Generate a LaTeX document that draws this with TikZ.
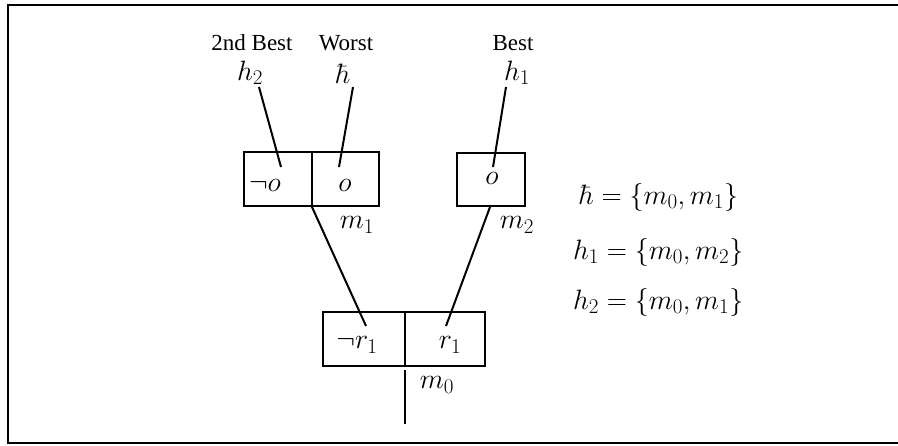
\documentclass[tikz,border=0pt]{standalone}
\usepackage{fix-cm}
\usepackage{fontspec}
\newfontfamily\timesf{Liberation Serif}
\DeclareMathSizes{28}{28}{21}{15}
\begin{document}
\begin{tikzpicture}[x=1pt,y=-1pt,
  cell/.style={draw,line width=2pt,minimum height=54pt,inner sep=0pt},
  conn/.style={line width=2pt},
  word/.style={font=\fontsize{23}{27}\timesf,inner sep=0pt},
  mth/.style={font=\fontsize{28}{32}\selectfont,inner sep=0pt}]
\useasboundingbox (0,0) rectangle (898,445);
% frame
\draw[line width=2.2pt] (898,5) -- (8,5) -- (8,443) -- (898,443);
% cells
\node[cell,minimum width=68pt] (m1a) at (278,179) {};
\node[cell,minimum width=67pt] (m1b) at (345.5,179) {};
\node[cell,minimum width=68pt,minimum height=53pt] (m2) at (491,179.5) {};
\node[cell,minimum width=82pt] (m0a) at (364,339) {};
\node[cell,minimum width=80pt] (m0b) at (445,339) {};
% cell texts
\node[mth] (tno) at (265,185) {$\neg o$};
\node[mth] (to1) at (345,185) {$o$};
\node[mth] (to2) at (492,178) {$o$};
\node[mth] (tnr) at (357,345) {$\neg r_1$};
\node[mth] (tr) at (450,345) {$r_1$};
% labels
\node[word] (l2b) at (252,43) {2nd Best};
\node[word] (lw) at (346,43) {Worst};
\node[word] (lb) at (513,43) {Best};
\node[mth] (h2) at (250,73) {$h_2$};
\node[mth] (hb) at (343,74) {$\hbar$};
\node[mth] (h1) at (517,73) {$h_1$};
\node[mth] (lm1) at (357,225) {$m_1$};
\node[mth] (lm2) at (517,225) {$m_2$};
\node[mth] (lm0) at (437,385) {$m_0$};
% equations
\node[mth,anchor=base west] (e1) at (579,204) {$\hbar=\{m_0, m_1\}$};
\node[mth,anchor=base west] (e2) at (573,259) {$h_1=\{m_0, m_2\}$};
\node[mth,anchor=base west] (e3) at (573,309) {$h_2=\{m_0, m_1\}$};
% connector endpoints
\coordinate (a2) at (259,87);
\coordinate (b2) at (281,167);
\coordinate (ab) at (353,87);
\coordinate (bb) at (339,167);
\coordinate (a1) at (506,87);
\coordinate (b1) at (493,167);
\coordinate (c1) at (312,207);
\coordinate (d1) at (366,326);
\coordinate (c2) at (490,207);
\coordinate (d2) at (446,326);
\coordinate (s0) at (405,370);
\coordinate (s1) at (405,424);
\draw[conn] (a2) -- (b2);
\draw[conn] (ab) -- (bb);
\draw[conn] (a1) -- (b1);
\draw[conn] (c1) -- (d1);
\draw[conn] (c2) -- (d2);
\draw[conn] (s0) -- (s1);
\end{tikzpicture}
\end{document}
